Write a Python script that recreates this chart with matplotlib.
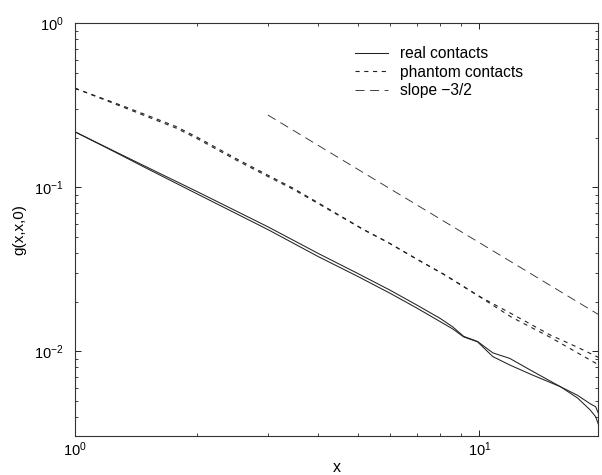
import matplotlib
matplotlib.use('Agg')
import matplotlib.pyplot as plt

plt.rcParams['font.family'] = ['Liberation Sans', 'DejaVu Sans']
plt.rcParams['mathtext.fontset'] = 'custom'
plt.rcParams['mathtext.rm'] = 'Liberation Sans'
plt.rcParams['mathtext.it'] = 'Liberation Sans:italic'
plt.rcParams['lines.scale_dashes'] = False

# real contacts (two runs)
real_x = [1, 1.21, 1.5, 2, 3, 4, 5, 6, 7, 8, 8.6, 9.15, 9.9, 10.8, 11.9,
          13.5, 15.9, 17.5, 18.8, 19.4, 19.7]
real_a = [0.218, 0.173, 0.1335, 0.0945, 0.0575, 0.0395, 0.0299, 0.0237,
          0.0192, 0.0159, 0.0141, 0.01235, 0.0115, 0.0098, 0.00906, 0.0076,
          0.00608, 0.0054, 0.0048, 0.0046, 0.0042]
real_b = [0.218, 0.172, 0.131, 0.0915, 0.0553, 0.0378, 0.0287, 0.0227,
          0.0184, 0.0152, 0.0137, 0.01225, 0.01144, 0.0093, 0.00826, 0.0072,
          0.00608, 0.0052, 0.0044, 0.0040, 0.0036]

# phantom contacts (two runs)
ph_x = [1, 1.33, 1.77, 2, 2.5, 3, 3.46, 4, 5.17, 5.91, 7, 8.24, 10.06, 12, 15,
        17.5, 19.7]
ph_a = [0.402, 0.310, 0.236, 0.203, 0.150, 0.1186, 0.099, 0.0804, 0.0554,
        0.0466, 0.0366, 0.0292, 0.0215, 0.0170, 0.01257, 0.0106, 0.0092]
ph_b = [0.402, 0.305, 0.231, 0.199, 0.147, 0.1165, 0.0975, 0.0795, 0.0552,
        0.0465, 0.0365, 0.0291, 0.0214, 0.0162, 0.01217, 0.0098, 0.0083]

# reference line
slope_x = [3.0, 19.7]
slope_y = [0.276, 0.0168]

fig = plt.figure(figsize=(6.02, 4.75), dpi=100)
ax = fig.add_axes([0.1246, 0.0821, 0.8693, 0.8688])

ax.plot(real_x, real_a, color='#222222', lw=0.75, label='real contacts')
ax.plot(real_x, real_b, color='#222222', lw=0.75)
ax.plot(ph_x, ph_a, color='#222222', lw=0.8, dashes=(3, 3.3),
        label='phantom contacts')
ax.plot(ph_x, ph_b, color='#222222', lw=0.8, dashes=(3, 3.3))
ax.plot(slope_x, slope_y, color='#333333', lw=0.65, dashes=(6.5, 4),
        label='slope \u22123/2')

ax.set_xscale('log')
ax.set_yscale('log')
ax.set_xlim(1, 19.7)
ax.set_ylim(0.00305, 1)

ax.set_xlabel('x', fontsize=11.5)
ax.xaxis.set_label_coords(0.5, -0.058)
ax.set_ylabel('g(x,x,0)', fontsize=11, labelpad=6)

ax.tick_params(which='both', direction='in', top=True, right=True,
               colors='#222222', labelcolor='black')
ax.tick_params(which='major', length=4, width=0.7)
ax.tick_params(which='minor', length=2.2, width=0.6)
ax.tick_params(axis='x', which='major', labelsize=10.5, pad=3)
ax.tick_params(axis='y', which='major', labelsize=10.5, pad=8)
for s in ax.spines.values():
    s.set_linewidth(0.8)
    s.set_color('#333333')

ax.legend(loc='upper left', bbox_to_anchor=(355 / 602, 1 - 46 / 475),
          bbox_transform=fig.transFigure, frameon=False, fontsize=11.2,
          handlelength=2.13, handletextpad=0.75, labelspacing=0.23,
          borderpad=0, borderaxespad=0)

fig.savefig('out.png', dpi=100)
